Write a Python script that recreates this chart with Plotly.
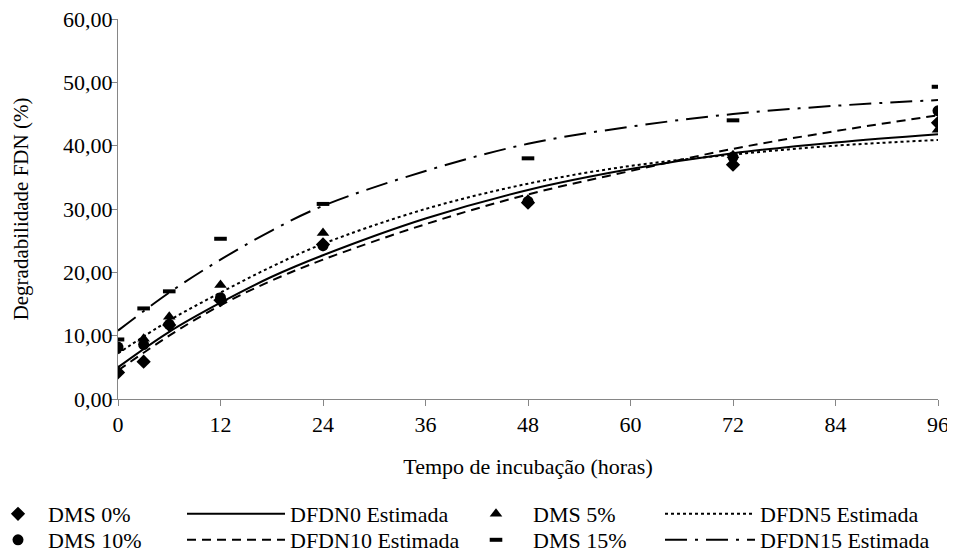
import plotly.graph_objects as go

times = [0, 3, 6, 12, 24, 48, 72, 96]
dms0 = [4.2, 5.9, 11.7, 15.6, 24.4, 31.0, 37.0, 43.6]
dms5 = [8.0, 9.5, 13.0, 18.0, 26.2, 31.5, 38.5, 42.5]
dms10 = [8.2, 8.6, 11.8, 16.0, 24.2, 31.2, 38.2, 45.5]
dms15 = [9.4, 14.3, 17.0, 25.3, 30.8, 38.0, 44.0, 49.3]

t_fit = [0, 6, 12, 18, 24, 36, 48, 60, 72, 84, 96]
est0 = [5.0, 10.6, 15.2, 19.3, 22.7, 28.5, 33.0, 36.3, 38.8, 40.5, 41.8]
est5 = [7.2, 12.4, 16.8, 20.9, 24.5, 30.0, 34.0, 36.8, 38.6, 40.0, 40.9]
est10 = [4.5, 10.0, 14.8, 18.7, 22.0, 27.6, 32.3, 36.0, 39.5, 42.3, 44.8]
est15 = [10.8, 16.8, 22.0, 26.6, 30.5, 36.0, 40.3, 43.0, 45.0, 46.3, 47.2]

x_ticks = [0, 12, 24, 36, 48, 60, 72, 84, 96]
y_ticks = [0, 10, 20, 30, 40, 50, 60]

black = "#000000"
axis_grey = "#868686"
font = dict(family="Liberation Serif", size=22, color=black)

fig = go.Figure()
fig.add_trace(go.Scatter(x=times, y=dms0, mode="markers", name="DMS 0%", legend="legend",
                         marker=dict(symbol="diamond", size=11, color=black)))
fig.add_trace(go.Scatter(x=t_fit, y=est0, mode="lines", name="DFDN0 Estimada", legend="legend2",
                         line=dict(color=black, width=2, shape="spline")))
fig.add_trace(go.Scatter(x=times, y=dms5, mode="markers", name="DMS 5%", legend="legend3",
                         marker=dict(symbol="triangle-up", size=11, color=black)))
fig.add_trace(go.Scatter(x=t_fit, y=est5, mode="lines", name="DFDN5 Estimada", legend="legend4",
                         line=dict(color=black, width=2, dash="dot", shape="spline")))
fig.add_trace(go.Scatter(x=times, y=dms10, mode="markers", name="DMS 10%", legend="legend5",
                         marker=dict(symbol="circle", size=11, color=black)))
fig.add_trace(go.Scatter(x=t_fit, y=est10, mode="lines", name="DFDN10 Estimada", legend="legend6",
                         line=dict(color=black, width=2, dash="9px,6px", shape="spline")))
fig.add_trace(go.Scatter(x=times, y=dms15, mode="markers", name="DMS 15%", legend="legend7",
                         marker=dict(symbol="line-ew", size=9, color=black,
                                     line=dict(color=black, width=4))))
fig.add_trace(go.Scatter(x=t_fit, y=est15, mode="lines", name="DFDN15 Estimada", legend="legend8",
                         line=dict(color=black, width=2, dash="22px,8px,3px,8px", shape="spline")))

# page body has an 8px margin, so the figure is drawn 8px smaller and placed accordingly
FIG_W, FIG_H = 947, 548
L, T, W, H = 110, 11, 820, 380
col_start = [-20, 174, 451, 652]
col_itemw = [50, 98, 64, 90]
row_top = [485, 511]

def leg(col, row):
    return dict(x=(col_start[col] - L) / W, xanchor="left",
                y=(T + H - row_top[row]) / H, yanchor="top",
                itemwidth=col_itemw[col], font=font, bgcolor="rgba(0,0,0,0)",
                borderwidth=0)

legends = {}
names = ["legend", "legend2", "legend3", "legend4", "legend5", "legend6", "legend7", "legend8"]
for i, nm in enumerate(names):
    legends[nm] = leg(i % 4, i // 4)

fig.update_layout(
    width=FIG_W, height=FIG_H,
    margin=dict(l=L, r=FIG_W - L - W, t=T, b=FIG_H - T - H, autoexpand=False),
    paper_bgcolor="white", plot_bgcolor="white",
    font=font,
    separators=",.",
    showlegend=True,
    xaxis=dict(range=[0, 96], tickvals=x_ticks, showgrid=False, zeroline=False,
               showline=True, linecolor=axis_grey, linewidth=1,
               ticks="outside", ticklen=6, tickcolor=axis_grey,
               ticklabeloverflow="allow",
               title=dict(text="Tempo de incubação (horas)", font=font, standoff=22),
               tickfont=font),
    yaxis=dict(range=[0, 60], tickvals=y_ticks, tickformat=".2f", showgrid=False,
               zeroline=False, showline=True, linecolor=axis_grey, linewidth=1,
               ticks="outside", ticklen=6, tickcolor=axis_grey, ticklabelstandoff=-6,
               ticklabeloverflow="allow",
               title=dict(text="Degradabilidade FDN (%)",
                          font=dict(family="Liberation Serif", size=21, color=black),
                          standoff=28),
               tickfont=font),
    **legends,
)
fig.write_html("out.html")
